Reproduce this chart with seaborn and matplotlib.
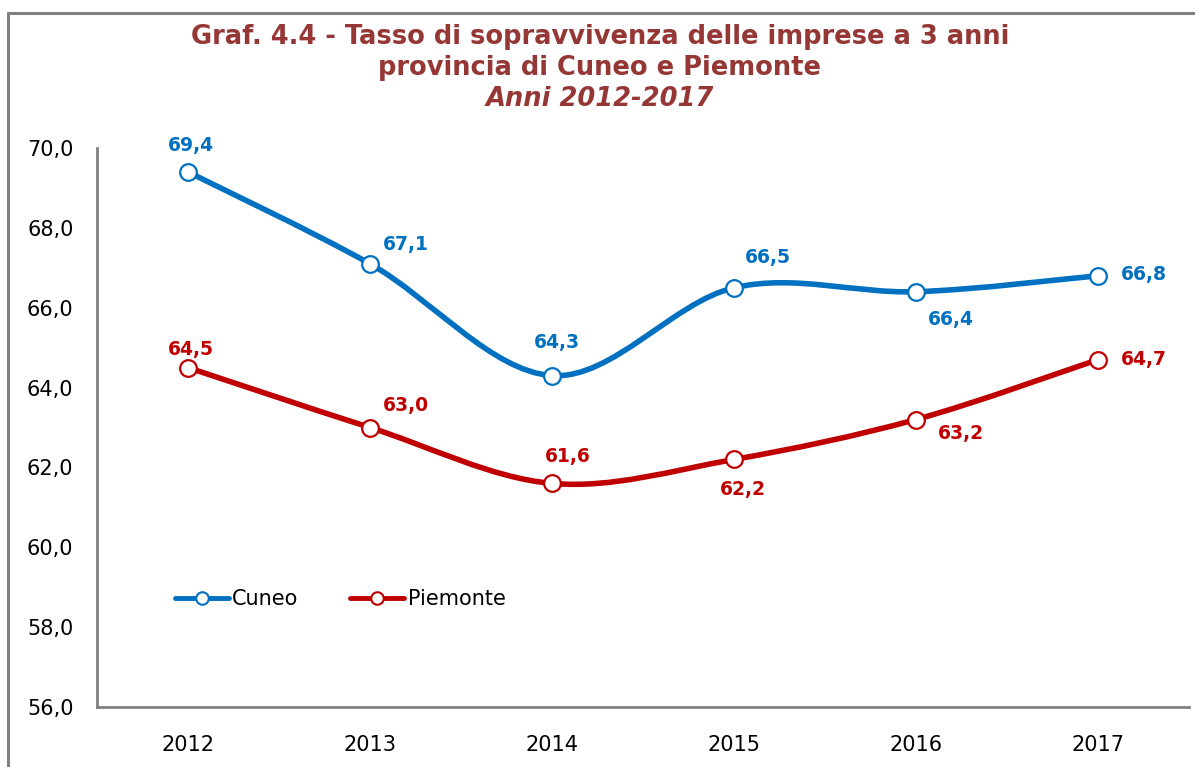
import numpy as np
import pandas as pd
import matplotlib
matplotlib.use("Agg")
import matplotlib.pyplot as plt
from matplotlib.path import Path
from matplotlib.patches import PathPatch
from matplotlib.lines import Line2D
import seaborn as sns

# ---------------------------------------------------------
# DATI
# ---------------------------------------------------------
anni = ["2012", "2013", "2014", "2015", "2016", "2017"]
cuneo = [69.4, 67.1, 64.3, 66.5, 66.4, 66.8]
piemonte = [64.5, 63.0, 61.6, 62.2, 63.2, 64.7]

serie = ["Cuneo", "Piemonte"]
colori = {"Cuneo": "#0070C0", "Piemonte": "#C00000"}

# posizione delle etichette dati (offset in pixel rispetto al punto)
offset_cuneo = [(3, 26), (36, 19), (5, 33), (34, 30), (35, -28), (46, 1)]
offset_piemonte = [(3, 18), (36, 22), (16, 27), (9, -30), (45, -14), (46, 0)]

df = pd.DataFrame({
    "pos": list(range(len(anni))) * 2,
    "anno": anni * 2,
    "valore": cuneo + piemonte,
    "serie": ["Cuneo"] * len(anni) + ["Piemonte"] * len(anni),
})

colore_titolo = "#953735"
grigio = "#808080"


def curva_smussata(xs, ys):
    # linea "smussata" stile Excel (Bezier tipo Catmull-Rom)
    pts = np.column_stack([xs, ys]).astype(float)
    n = len(pts)
    verts = [pts[0]]
    codes = [Path.MOVETO]
    for i in range(n - 1):
        p0 = pts[max(i - 1, 0)]
        p1 = pts[i]
        p2 = pts[i + 1]
        p3 = pts[min(i + 2, n - 1)]
        c1 = p1 + (p2 - p0) / 6.0
        c2 = p2 - (p3 - p1) / 6.0
        verts += [c1, c2, p2]
        codes += [Path.CURVE4] * 3
    return Path(verts, codes)


# ---------------------------------------------------------
# GRAFICO
# ---------------------------------------------------------
sns.set_theme(style="white")
plt.rcParams["font.family"] = ["DejaVu Sans"]

fig = plt.figure(figsize=(11.95, 7.67), dpi=100)
ax = fig.add_axes([97 / 1195, 1 - 707 / 767, (1189 - 97) / 1195, (707 - 148) / 767])

for nome, offs in zip(serie, [offset_cuneo, offset_piemonte]):
    d = df[df["serie"] == nome]
    c = colori[nome]
    patch = PathPatch(curva_smussata(d["pos"], d["valore"]), fill=False,
                      edgecolor=c, lw=4, capstyle="round", joinstyle="round", zorder=2)
    ax.add_patch(patch)
    sns.lineplot(data=d, x="pos", y="valore", ax=ax, linestyle="none", marker="o",
                 markersize=12, markerfacecolor="white", markeredgecolor=c,
                 markeredgewidth=1.6, zorder=3, legend=False)
    for (x, v), (dx, dy) in zip(zip(d["pos"], d["valore"]), offs):
        ax.annotate(f"{v:.1f}".replace(".", ","), (x, v), xytext=(dx, dy),
                    textcoords="offset pixels", ha="center", va="center",
                    fontsize=13.5, fontweight="bold", color=c)

ax.set_xlim(-0.5, len(anni) - 0.5)
ax.set_ylim(56, 70)
ax.set_xticks(range(len(anni)))
ax.set_xticklabels(anni)
ax.set_yticks(np.arange(56, 70.1, 2))
ax.set_yticklabels([f"{t:.1f}".replace(".", ",") for t in np.arange(56, 70.1, 2)])
ax.tick_params(axis="both", length=0, labelsize=15, colors="black")
ax.tick_params(axis="y", pad=17)
ax.tick_params(axis="x", pad=20)
ax.set_xlabel("")
ax.set_ylabel("")
ax.grid(False)
for s in ["top", "right"]:
    ax.spines[s].set_visible(False)
for s in ["left", "bottom"]:
    ax.spines[s].set_color(grigio)
    ax.spines[s].set_linewidth(2)

# legenda
handles = [Line2D([], [], color=colori[n], lw=3.5, marker="o", markersize=9,
                  markerfacecolor="white", markeredgecolor=colori[n], markeredgewidth=1.5)
           for n in serie]
leg = ax.legend(handles, serie, loc="center left", bbox_to_anchor=(0.071, 0.193), ncol=2,
                frameon=False, fontsize=15, handlelength=2.6, handletextpad=0.15,
                columnspacing=2.5, borderpad=0, borderaxespad=0)
for t in leg.get_texts():
    t.set_color("black")

# titolo
fig.text(0.502, 1 - 37 / 767, "Graf. 4.4 - Tasso di sopravvivenza delle imprese a 3 anni",
         ha="center", va="center", fontsize=18.5, fontweight="bold", color=colore_titolo)
fig.text(0.502, 1 - 68 / 767, "provincia di Cuneo e Piemonte",
         ha="center", va="center", fontsize=18.5, fontweight="bold", color=colore_titolo)
fig.text(0.502, 1 - 99 / 767, "Anni 2012-2017",
         ha="center", va="center", fontsize=18.5, fontweight="bold", style="italic",
         color=colore_titolo)

# cornice del grafico (solo bordo sinistro e superiore visibili)
fig.add_artist(Line2D([8 / 1195, 8 / 1195], [-0.05, 1 - 13 / 767], color=grigio, lw=2.2,
                      transform=fig.transFigure))
fig.add_artist(Line2D([8 / 1195, 1.05], [1 - 13 / 767, 1 - 13 / 767], color=grigio, lw=2.2,
                      transform=fig.transFigure))

fig.savefig("out.png", dpi=100)
